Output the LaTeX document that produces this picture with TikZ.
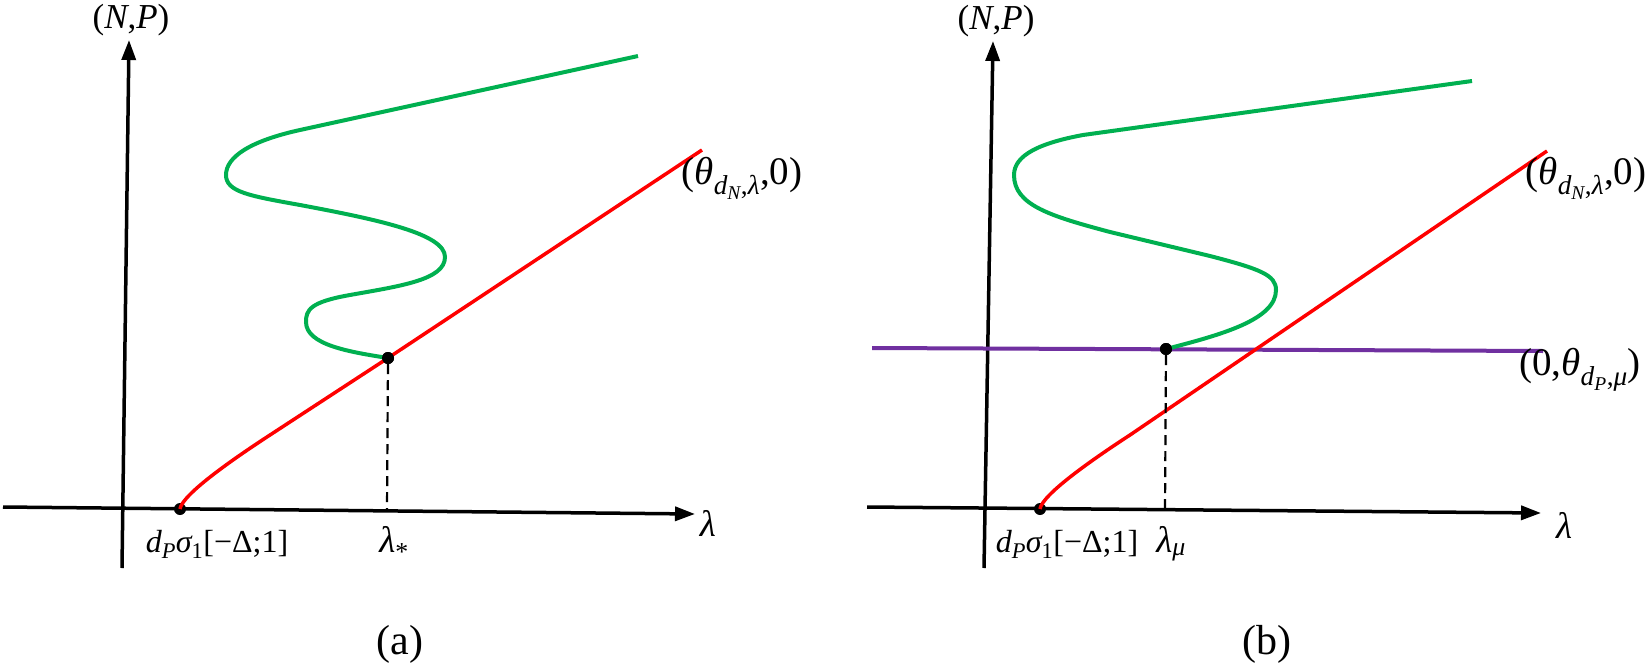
\documentclass[tikz,border=0pt]{standalone}
\usepackage{amsmath}
\usepackage{fontspec}
\setmainfont{Liberation Serif}
\usetikzlibrary{arrows.meta}
\definecolor{cgreen}{RGB}{0,176,80}
\definecolor{cred}{RGB}{255,0,0}
\definecolor{cpurple}{RGB}{112,48,160}
\newcommand{\ii}[1]{\textit{#1}}
\tikzset{
  axisline/.style={line width=3.5pt,-{Triangle[length=20pt,width=14pt]}},
  greencurve/.style={cgreen,line width=4pt},
  redcurve/.style={cred,line width=3.5pt},
  purpleline/.style={cpurple,line width=4pt},
  dashline/.style={line width=2.2pt,dash pattern=on 10pt off 6pt},
  dotnode/.style={circle,fill=black,inner sep=0pt,minimum size=12pt},
  lbl/.style={inner sep=0pt,font=\fontsize{37}{44}\selectfont},
  nplbl/.style={inner sep=0pt,font=\fontsize{35}{42}\selectfont},
  axlbl/.style={inner sep=0pt,font=\fontsize{32}{38}\selectfont},
  thlbl/.style={inner sep=0pt,font=\fontsize{39}{46}\selectfont},
  captionlbl/.style={inner sep=0pt,font=\fontsize{42}{48}\selectfont}
}
\begin{document}
\begin{tikzpicture}[x=1pt,y=-1pt]
\useasboundingbox (0,0) rectangle (1645,666);
% ---------------- panel (a) ----------------
\coordinate (aXL) at (3,507);
\coordinate (aXR) at (695,514);
\coordinate (aYB) at (122,568);
\coordinate (aYT) at (129,40);
\draw[axisline] (aXL) -- (aXR);
\draw[axisline] (aYB) -- (aYT);
\node[nplbl,anchor=base] (aNP) at (131,29) {(\ii{N},\ii{P})};
\node[lbl] (aLam) at (708,523) {\ii{λ}};
\node[dotnode] (aS) at (180,509) {};
\node[dotnode] (aD) at (388,358) {};
\coordinate (aDB) at (387,510);
\coordinate (aE) at (702,150);
\draw[redcurve] (aS.center) .. controls (182,495) and (230,461) .. (270,435) -- (aD.center) -- (aE);
\draw[greencurve] (638,56) -- (300,130) .. controls (250,141) and (226,157) .. (226,175)
  .. controls (226,192) and (250,196) .. (300,205)
  .. controls (380,220) and (445,234) .. (445,257)
  .. controls (445,280) and (400,286) .. (350,295)
  .. controls (310,302) and (306,310) .. (306,322)
  .. controls (306,345) and (350,352) .. (aD.center);
\node[dotnode] at (aD) {};
\draw[dashline] (aD) -- (aDB);
\node[axlbl,anchor=base] (aLS) at (217,552) {$\ii{d}_{\ii{P}}\ii{σ}_{\text{1}}\text{[−Δ;1]}$};
\node[lbl,anchor=base] (aLStar) at (394,552) {$\ii{λ}_{\text{*}}$};
\node[thlbl] (aTh) at (742,178) {$\text{(}\ii{θ}_{\ii{d}_{\ii{N}}\text{,}\ii{λ}}\text{,0)}$};
\node[captionlbl] (aCap) at (400,644) {(a)};
% ---------------- panel (b) ----------------
\coordinate (bXL) at (867,507);
\coordinate (bXR) at (1541,513);
\coordinate (bYB) at (984,568);
\coordinate (bYT) at (993,41);
\draw[axisline] (bXL) -- (bXR);
\draw[axisline] (bYB) -- (bYT);
\node[nplbl,anchor=base] (bNP) at (996,30) {(\ii{N},\ii{P})};
\node[lbl] (bLam) at (1564,525) {\ii{λ}};
\coordinate (bPL) at (872,348);
\coordinate (bPR) at (1543,351);
\draw[purpleline] (bPL) -- (bPR);
\node[dotnode] (bS) at (1040,509) {};
\node[dotnode] (bD) at (1166,349) {};
\coordinate (bDB) at (1165,511);
\coordinate (bE) at (1547,151);
\draw[redcurve] (bS.center) .. controls (1042,495) and (1090,461) .. (1130,435) -- (bE);
\draw[greencurve] (1472,81) -- (1083,135) .. controls (1040,143) and (1014,155) .. (1014,175)
  .. controls (1014,205) and (1050,216) .. (1110,232)
  -- (1210,256) .. controls (1260,269) and (1276,275) .. (1276,290)
  .. controls (1276,320) and (1220,335) .. (bD.center);
\node[dotnode] at (bD) {};
\draw[dashline] (bD) -- (bDB);
\node[axlbl,anchor=base] (bLS) at (1067,552) {$\ii{d}_{\ii{P}}\ii{σ}_{\text{1}}\text{[−Δ;1]}$};
\node[lbl,anchor=base] (bLMu) at (1171,552) {$\ii{λ}_{\ii{μ}}$};
\node[thlbl] (bTh) at (1586,178) {$\text{(}\ii{θ}_{\ii{d}_{\ii{N}}\text{,}\ii{λ}}\text{,0)}$};
\node[thlbl,anchor=east] (bTp) at (1641,370) {$\text{(0,}\ii{θ}_{\ii{d}_{\ii{P}}\text{,}\ii{μ}}\text{)}$};
\node[captionlbl] (bCap) at (1267,644) {(b)};
\end{tikzpicture}
\end{document}
